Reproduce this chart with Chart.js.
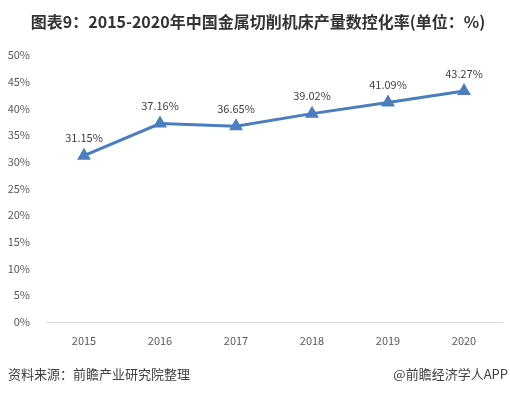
<!DOCTYPE html>
<html>
<head>
<meta charset="utf-8">
<script src="https://cdn.jsdelivr.net/npm/chart.js@4.4.1/dist/chart.umd.min.js"></script>
<style>
  html, body { margin: 0; padding: 0; background: #fff; }
  #wrap { width: 510px; height: 393px; position: relative; }
</style>
</head>
<body>
<div id="wrap"><canvas id="rateChart" width="510" height="393"></canvas></div>
<script>
// data
const years = ['2015', '2016', '2017', '2018', '2019', '2020'];
const cncRate = [31.15, 37.16, 36.65, 39.02, 41.09, 43.27];
const yTicks = [0, 5, 10, 15, 20, 25, 30, 35, 40, 45, 50];

const titleText = '图表9：2015-2020年中国金属切削机床产量数控化率(单位：%)';
const sourceText = '资料来源：前瞻产业研究院整理';
const brandText = '@前瞻经济学人APP';

const cjkFont = '"Noto Sans CJK SC", "Noto Sans", sans-serif';
const lineColor = '#4a7ebf';

// title, footer and point labels
const extraText = {
    id: 'extraText',
    afterDatasetsDraw(chart) {
        const ctx = chart.ctx;
        ctx.save();
        ctx.fillStyle = '#333';
        ctx.font = 'bold 16px ' + cjkFont;
        ctx.textAlign = 'center';
        ctx.textBaseline = 'middle';
        ctx.fillText(titleText, 258, 22);

        ctx.font = '13px ' + cjkFont;
        ctx.fillStyle = '#404040';
        ctx.textAlign = 'left';
        ctx.fillText(sourceText, 8, 374);
        ctx.textAlign = 'right';
        ctx.fillText(brandText, 508, 374);

        const meta = chart.getDatasetMeta(0);
        ctx.font = '11px ' + cjkFont;
        ctx.fillStyle = '#404040';
        ctx.textAlign = 'center';
        ctx.textBaseline = 'bottom';
        meta.data.forEach((pt, i) => {
            ctx.fillText(cncRate[i].toFixed(2) + '%', pt.x, pt.y - 12);
        });
        ctx.restore();
    }
};

new Chart(document.getElementById('rateChart'), {
    type: 'line',
    data: {
        labels: years,
        datasets: [{
            data: cncRate,
            borderColor: lineColor,
            backgroundColor: lineColor,
            borderWidth: 3,
            pointStyle: 'triangle',
            pointRadius: 5,
            pointHoverRadius: 5,
            tension: 0
        }]
    },
    options: {
        responsive: false,
        animation: false,
        layout: { padding: { top: 55, bottom: 23, left: 0, right: 7 } },
        plugins: {
            legend: { display: false },
            tooltip: { enabled: false }
        },
        scales: {
            x: {
                offset: true,
                grid: { display: false },
                border: { color: '#d9d9d9', width: 1 },
                ticks: {
                    color: '#595959',
                    font: { size: 11, family: cjkFont },
                    padding: 4
                },
                afterFit(scale) { scale.height = 48; }
            },
            y: {
                min: 0,
                max: 50,
                grid: { display: false },
                border: { display: false },
                afterBuildTicks(scale) {
                    scale.ticks = yTicks.map(v => ({ value: v }));
                },
                ticks: {
                    color: '#595959',
                    font: { size: 11, family: cjkFont },
                    padding: 8,
                    callback: v => v + '%'
                },
                afterFit(scale) { scale.width = 46; }
            }
        }
    },
    plugins: [extraText]
});
</script>
</body>
</html>
